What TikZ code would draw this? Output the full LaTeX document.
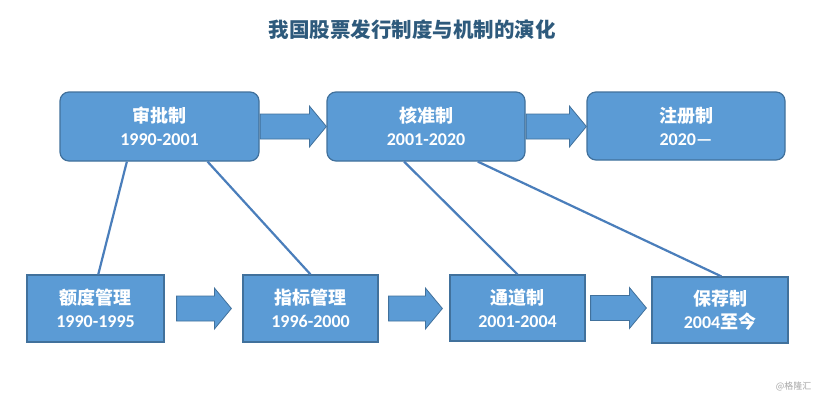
\documentclass[tikz,border=0pt]{standalone}
\usepackage{fontspec}
\setmainfont{Carlito}
\newfontfamily\cjk{Noto Sans CJK SC}
\usetikzlibrary{calc}
\definecolor{boxfill}{HTML}{5B9BD5}
\definecolor{boxedge}{HTML}{41719C}
\definecolor{linkcol}{HTML}{4A7EBB}
\definecolor{titlecol}{HTML}{2E5A7C}
\tikzset{
  topbox/.style={draw=boxedge, line width=1.2pt, fill=boxfill, rounded corners=9pt, text=white, align=center,
    font=\fontsize{18}{23}\selectfont\bfseries, inner sep=0pt},
  botbox/.style={draw=boxedge, line width=1.2pt, fill=boxfill, text=white, align=center,
    font=\fontsize{18}{23}\selectfont\bfseries, inner sep=0pt},
  link/.style={draw=linkcol, line width=2.2pt},
  blockarr/.style={draw=boxedge, line width=0.8pt, fill=boxfill}
}
\newcommand\fatarrow[4]{%
  \draw[blockarr] let \p1=($(#1.east)+(#3,0)$), \p2=($(#2.west)-(#4,0)$) in
    (\x1,\y1+12.5pt) -- (\x2-17pt,\y1+12.5pt) -- (\x2-17pt,\y1+20.5pt) -- (\x2,\y1)
    -- (\x2-17pt,\y1-20.5pt) -- (\x2-17pt,\y1-12.5pt) -- (\x1,\y1-12.5pt) -- cycle;}
\begin{document}
\begin{tikzpicture}[x=1pt,y=-1pt]
\useasboundingbox (0,0) rectangle (819,400);
\fill[white] (0,0) rectangle (819,400);
\node[text=titlecol, font=\cjk\fontsize{20.5}{24}\selectfont\bfseries] (title) at (412,30) {我国股票发行制度与机制的演化};
% top row
\node[topbox, minimum width=199, minimum height=69] (b1) at (159.5,126.5) {{\cjk 审批制}\\1990-2001};
\node[topbox, minimum width=198, minimum height=69] (b2) at (426,126.5) {{\cjk 核准制}\\2001-2020};
\node[topbox, minimum width=198, minimum height=68] (b3) at (686,126) {{\cjk 注册制}\\2020—};
% bottom row
\node[botbox, minimum width=137, minimum height=67] (c1) at (95.5,308.5) {{\cjk 额度管理}\\1990-1995};
\node[botbox, minimum width=135, minimum height=67] (c2) at (310.5,308.5) {{\cjk 指标管理}\\1996-2000};
\node[botbox, minimum width=135, minimum height=66] (c3) at (517.5,308) {{\cjk 通道制}\\2001-2004};
\node[botbox, minimum width=136, minimum height=66] (c4) at (720,310) {{\cjk 保荐制}\\2004{\cjk 至今}};
% links
\draw[link] ($(b1.south west)!0.337!(b1.south east)$) -- ($(c1.north west)!0.52!(c1.north east)$);
\draw[link] ($(b1.south west)!0.74!(b1.south east)$) -- ($(c2.north west)!0.5!(c2.north east)$);
\draw[link] ($(b2.south west)!0.39!(b2.south east)$) -- ($(c3.north west)!0.5!(c3.north east)$);
\draw[link] ($(b2.south west)!0.76!(b2.south east)$) -- ($(c4.north west)!0.51!(c4.north east)$);
% block arrows
\fatarrow{b1}{b2}{0.5pt}{0pt}
\fatarrow{b2}{b3}{0.5pt}{0pt}
\fatarrow{c1}{c2}{12pt}{11pt}
\fatarrow{c2}{c3}{10pt}{7pt}
\fatarrow{c3}{c4}{5pt}{5pt}
\node[text=gray!70, font=\cjk\fontsize{9}{10}\selectfont, anchor=east] (wm) at (815,386) {@格隆汇};
\end{tikzpicture}
\end{document}
